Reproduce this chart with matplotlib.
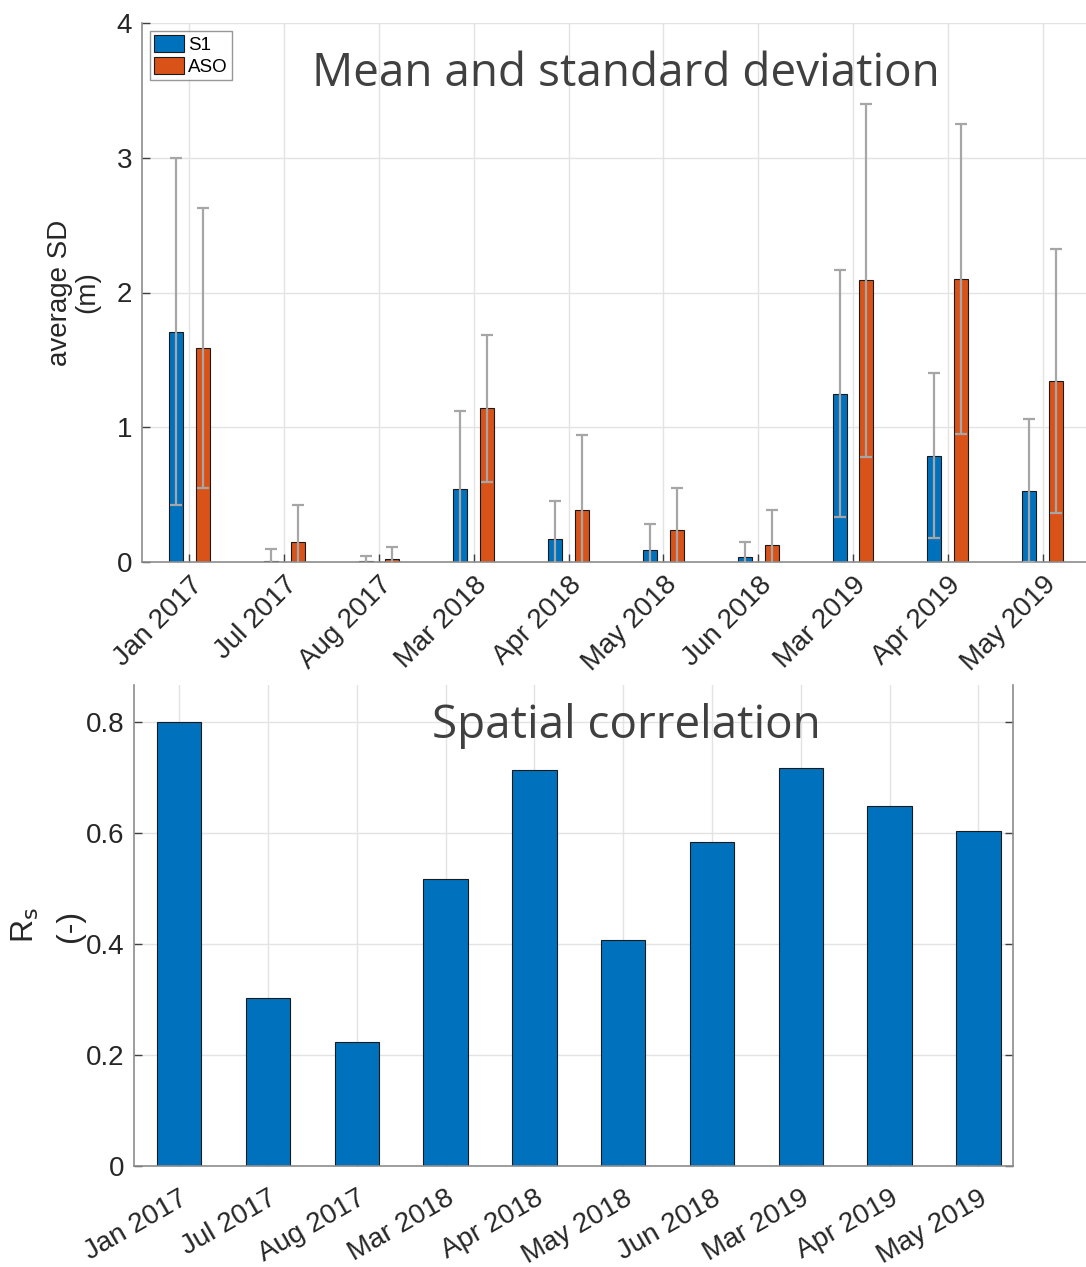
import numpy as np
import matplotlib
matplotlib.use("Agg")
import matplotlib.pyplot as plt

months = ["Jan 2017", "Jul 2017", "Aug 2017", "Mar 2018", "Apr 2018",
          "May 2018", "Jun 2018", "Mar 2019", "Apr 2019", "May 2019"]

s1_mean = [1.71, 0.01, 0.005, 0.54, 0.17, 0.09, 0.035, 1.25, 0.79, 0.53]
s1_std = [1.29, 0.085, 0.04, 0.58, 0.285, 0.19, 0.11, 0.915, 0.61, 0.53]
aso_mean = [1.59, 0.145, 0.025, 1.14, 0.385, 0.24, 0.125, 2.09, 2.10, 1.345]
aso_std = [1.04, 0.275, 0.085, 0.545, 0.555, 0.31, 0.26, 1.31, 1.15, 0.98]

rs = [0.801, 0.302, 0.224, 0.517, 0.713, 0.408, 0.584, 0.717, 0.648, 0.603]

blue = "#0072BD"
orange = "#D95319"
err_col = "#a6a6a6"
spine_col = "#8c8c8c"
txt_col = "#262626"

plt.rcParams["font.family"] = ["Liberation Sans", "DejaVu Sans"]

W, H = 1086, 1267
fig = plt.figure(figsize=(W / 100, H / 100), dpi=100)

x = np.arange(1, len(months) + 1)

# ---- top panel: mean and std ----
ax1 = fig.add_axes([142 / W, 1 - 562 / H, (1090 - 142) / W, (562 - 23) / H])
off = 0.142
bw = 0.147
ax1.bar(x - off, s1_mean, bw, color=blue, edgecolor="#1a1a1a", linewidth=0.8,
        label="S1", zorder=2)
ax1.bar(x + off, aso_mean, bw, color=orange, edgecolor="#1a1a1a", linewidth=0.8,
        label="ASO", zorder=2)
ax1.errorbar(x - off, s1_mean, yerr=s1_std, fmt="none", ecolor=err_col,
             elinewidth=1.6, capsize=4, capthick=1.6, zorder=3)
ax1.errorbar(x + off, aso_mean, yerr=aso_std, fmt="none", ecolor=err_col,
             elinewidth=1.6, capsize=4, capthick=1.6, zorder=3)
ax1.set_xlim(0.5, 10.5)
ax1.set_ylim(0, 4)
ax1.set_yticks([0, 1, 2, 3, 4])
ax1.set_xticks(x)
ax1.set_xticklabels(months, rotation=45, ha="right", rotation_mode="anchor")
ax1.set_ylabel("average SD\n(m)", fontsize=20, color=txt_col, linespacing=1.05)
ax1.yaxis.set_label_coords(-0.044, 0.5)
ax1.text(0.51, 0.905, "Mean and standard deviation", transform=ax1.transAxes,
         fontsize=33, color="#404040", ha="center", va="center",
         family=["Open Sans", "DejaVu Sans"])
leg = ax1.legend(loc="upper left", fontsize=13.5, frameon=True, fancybox=False,
                 handlelength=1.6, handleheight=1.0, handletextpad=0.2,
                 borderpad=0.25, labelspacing=0.15, borderaxespad=0.4)
leg.get_frame().set_edgecolor("#7f7f7f")
leg.get_frame().set_linewidth(1.0)

# ---- bottom panel: spatial correlation ----
ax2 = fig.add_axes([134 / W, 1 - 1166 / H, (1013 - 134) / W, (1166 - 685) / H])
ax2.bar(x, rs, 0.5, color=blue, edgecolor="#1a1a1a", linewidth=0.8, zorder=2)
ax2.set_xlim(0.49, 10.39)
ax2.set_ylim(0, 0.867)
ax2.set_yticks([0, 0.2, 0.4, 0.6, 0.8])
ax2.set_yticklabels(["0", "0.2", "0.4", "0.6", "0.8"])
ax2.set_xticks(x)
ax2.set_xticklabels(months, rotation=30, ha="right", rotation_mode="anchor")
ax2.set_ylabel("R$_\\mathrm{s}$\n(-)", fontsize=23, color=txt_col, linespacing=1.6)
ax2.yaxis.set_label_coords(-0.056, 0.5)
ax2.text(0.56, 0.915, "Spatial correlation", transform=ax2.transAxes,
         fontsize=33, color="#404040", ha="center", va="center",
         family=["Open Sans", "DejaVu Sans"])

for ax in (ax1, ax2):
    ax.grid(True, color="#e3e3e3", linewidth=1.0, zorder=0)
    ax.set_axisbelow(True)
    ax.tick_params(direction="in", labelsize=20, labelcolor=txt_col,
                   color="#404040", length=6, width=1.0, pad=7)
    for s in ax.spines.values():
        s.set_color(spine_col)
        s.set_linewidth(1.2)

ax1.spines["top"].set_visible(False)
ax1.spines["right"].set_visible(False)
ax2.tick_params(right=True, top=False)
ax2.tick_params(axis="x", pad=14)
ax2.spines["top"].set_visible(False)

fig.savefig("out.png", dpi=100)
